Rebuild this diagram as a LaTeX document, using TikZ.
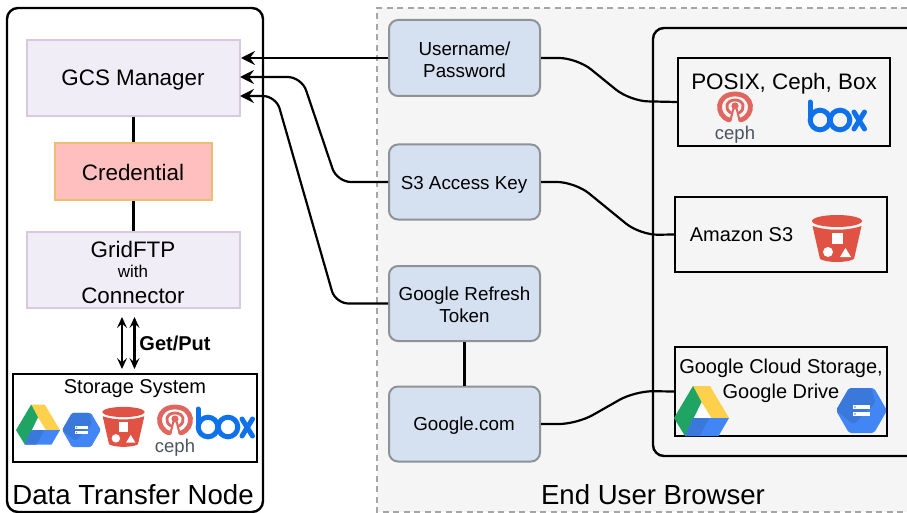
\documentclass[tikz,border=0pt]{standalone}
\usepackage{fontspec}
\setmainfont{Liberation Sans}
\usetikzlibrary{arrows.meta}
\tikzset{
 x=1pt,y=-1pt,
 purplebox/.style={draw=lav,line width=2pt,fill=lavfill,inner sep=0pt},
 bluebox/.style={draw=graybd,line width=2pt,fill=bluef,rounded corners=9pt,minimum width=151pt,inner sep=0pt},
 blackbox/.style={draw=black,line width=2.4pt,inner sep=0pt},
 conn/.style={draw=black,line width=2.2pt,rounded corners=18pt},
 plainline/.style={draw=black,line width=2.2pt},
 arr/.style={conn,-{Stealth[length=14pt,width=14pt,inset=5pt]}},
 dbl/.style={plainline,{Stealth[length=11pt,width=10pt,inset=4.5pt]}-{Stealth[length=11pt,width=10pt,inset=4.5pt]}},
 lab/.style={inner sep=0pt,align=center},
 big/.style={font=\fontsize{27.6}{32}\selectfont},
 mid/.style={font=\fontsize{22.4}{26}\selectfont},
 sml/.style={font=\fontsize{18.8}{22}\selectfont},
 sgl/.style={font=\fontsize{20}{25}\selectfont},
 cephtxt/.style={text=cephg,font=\fontsize{18.5}{22}\selectfont},
}
\definecolor{lav}{HTML}{D5CAE2}
\definecolor{lavfill}{HTML}{F1EDF6}
\definecolor{graybd}{HTML}{8E9398}
\definecolor{bluef}{HTML}{D5E1F1}
\definecolor{credf}{HTML}{FFBFBF}
\definecolor{credd}{HTML}{EBBE70}
\definecolor{brow}{HTML}{F5F5F5}
\definecolor{dashc}{HTML}{A6A6A6}
\definecolor{redi}{HTML}{E05243}
\definecolor{cephr}{HTML}{E0675F}
\definecolor{cephg}{HTML}{4A5560}
\definecolor{boxb}{HTML}{0F72EA}
\definecolor{gblue}{HTML}{4285F4}
\definecolor{gblued}{HTML}{3B78DC}
\definecolor{ggreen}{HTML}{1FA463}
\definecolor{gyellow}{HTML}{FFD04B}
\newcommand{\bucketicon}[2]{\begin{scope}[shift={(#1)},x=#2pt,y=-#2pt]
 \fill[redi] (0,-20) ellipse[x radius=25,y radius=6];
 \fill[redi] (-24.5,-15) .. controls (-10,-10) and (10,-10) .. (24.5,-15) -- (17,18) .. controls (10,22) and (-10,22) .. (-17,18) -- cycle;
 \fill[white] (-5.5,-8) rectangle (5.5,3);
 \fill[white] (-9,11) circle[radius=5];
 \fill[white] (3,16) -- (8.5,7) -- (14,16) -- cycle;
\end{scope}}
\newcommand{\hexicon}[2]{\begin{scope}[shift={(#1)},x=#2pt,y=-#2pt]
 \fill[gblue,rounded corners=#2*2pt] (-25.5,0) -- (-12.5,-22.5) -- (12.5,-22.5) -- (25.5,0) -- (12.5,22.5) -- (-12.5,22.5) -- cycle;
 \fill[gblued,rounded corners=#2*2pt] (-25.5,0) -- (-12.5,-22.5) -- (10,-22.5) -- (14,-8) -- (-8,14) -- cycle;
 \fill[white] (-8.5,-5.5) rectangle (8.5,-1.5);
 \fill[white] (-8.5,1.5) rectangle (8.5,5.5);
 \fill[gblue] (-6.5,-3.5) circle[radius=.8] (-6.5,3.5) circle[radius=.8];
\end{scope}}
\newcommand{\driveicon}[2]{\begin{scope}[shift={(#1)},x=#2pt,y=-#2pt]
 \fill[white] (0,-9) -- (11,8) -- (-9,8) -- cycle;
 \fill[gyellow] (-8.5,-25) -- (8.5,-25) -- (27.5,7) -- (10,7) -- (0,-9) -- cycle;
 \fill[ggreen] (-8.5,-25) -- (0,-9) -- (-16.5,25) -- (-27.5,7) -- cycle;
 \fill[gblue] (-8.5,7) -- (27.5,7) -- (17,25) -- (-16.5,25) -- cycle;
 \fill[gblued] (-8.5,7) -- (8,7) -- (-2,25) -- (-16.5,25) -- cycle;
\end{scope}}
\newcommand{\cephicon}[2]{\begin{scope}[shift={(#1)},x=#2pt,y=-#2pt]
 \draw[cephr,line width=#2*4.8pt,line cap=round] (-6,13) .. controls (-20,8) and (-19,-13) .. (0,-13) .. controls (19,-13) and (20,8) .. (6,13);
 \draw[cephr,line width=#2*2.8pt,line cap=round] (-4,6) .. controls (-11,2) and (-9,-7) .. (0,-7) .. controls (9,-7) and (11,2) .. (4,6);
 \fill[cephr] (0,-1) circle[radius=3.6];
 \draw[cephr,line width=#2*2pt] (-1.8,2) .. controls (-2,6) and (-4,9) .. (-4.5,14);
 \draw[cephr,line width=#2*2pt] (1.8,2) .. controls (2,6) and (4,9) .. (4.5,14);
\end{scope}}
\newcommand{\boxicon}[2]{\begin{scope}[shift={(#1)},x=#2pt,y=-#2pt]
 \draw[boxb,line width=#2*5pt,line cap=round] (-27,-18) -- (-27,0);
 \draw[boxb,line width=#2*5pt] (-17,0) circle[radius=9.8];
 \draw[boxb,line width=#2*5pt] (3,0) circle[radius=9.8];
 \draw[boxb,line width=#2*5pt,line cap=round] (17,-8) -- (27.5,9);
 \draw[boxb,line width=#2*5pt,line cap=round] (27.5,-8) -- (17,9);
\end{scope}}
\begin{document}
\begin{tikzpicture}
\useasboundingbox (0,0) rectangle (907,513);
% containers
\path[fill=brow] (377,8) rectangle (907,512);
\draw[dashc,line width=2pt,dash pattern=on 6pt off 4.5pt] (907,8) -- (377,8) -- (377,512) -- (907,512);
\path[draw=black,line width=2.4pt,rounded corners=11pt] (918,28) -- (653,28) -- (653,456) -- (918,456);
\node[draw=black,line width=2.4pt,rounded corners=11pt,minimum width=256pt,minimum height=504pt,inner sep=0pt] (dtn) at (135,260) {};
\node[lab,big] (dtnl) at (133,495) {Data Transfer Node};
\node[lab,big] (ebl) at (653,495) {End User Browser};
% left column
\node[purplebox,minimum width=213pt,minimum height=76pt] (gcs) at (133.5,78) {};
\node[lab,mid] (gcsl) at (133,80) {GCS Manager};
\node[draw=credd,fill=credf,line width=2pt,inner sep=0pt,minimum width=157pt,minimum height=57pt] (cred) at (133.5,171.5) {};
\node[lab,mid] (credl) at (133,172.5) {Credential};
\node[purplebox,minimum width=213pt,minimum height=76pt] (grid) at (133.5,270) {};
\node[lab,mid] (g1) at (133,249.5) {GridFTP};
\node[lab,font=\fontsize{17}{20}\selectfont] (g2) at (133,271) {with};
\node[lab,mid] (g3) at (133,295.5) {Connector};
\draw[plainline] (gcs) -- (cred);
\draw[plainline] (cred) -- (grid);
\node[blackbox,minimum width=244pt,minimum height=88pt] (stor) at (135,418) {};
\node[lab,sgl] (storl) at (135,388.5) {Storage System};
\coordinate (upa) at (122,317); \coordinate (upb) at (122,369);
\coordinate (dna) at (134.5,317); \coordinate (dnb) at (134.5,369);
\draw[dbl] (upa) -- (upb);
\draw[dbl] (dna) -- (dnb);
\node[lab,sgl,font=\fontsize{20}{24}\selectfont\bfseries] (gp) at (175,343) {Get/Put};
% storage icons
\driveicon{38,424.5}{0.8}
\hexicon{81.5,430}{0.76}
\bucketicon{123.5,429}{0.85}
\cephicon{175,420}{1}
\node[lab,cephtxt] (c1) at (175,448) {ceph};
\boxicon{225,427}{1}
% middle column
\node[bluebox,minimum height=76pt] (user) at (464.5,58) {};
\node[lab,sml] (userl) at (464.5,60) {Username/\\Password};
\node[bluebox,minimum height=75pt] (s3k) at (464.5,182) {};
\node[lab,sml] (s3l0) at (464,185) {S3 Access Key};
\node[bluebox,minimum height=75pt] (refr) at (464.5,303.5) {};
\node[lab,sml] (refl) at (464.5,305) {Google Refresh\\Token};
\node[bluebox,minimum height=75pt] (gcom) at (464.5,424) {};
\node[lab,sml] (gcl) at (464,426) {Google.com};
\draw[plainline] (refr) -- (gcom);
% right boxes
\node[blackbox,minimum width=212pt,minimum height=88pt] (posix) at (784,102) {};
\node[lab,mid] (pl) at (784,84) {POSIX, Ceph, Box};
\cephicon{735,107}{1}
\node[lab,cephtxt] (c2) at (735,134.5) {ceph};
\boxicon{837,120}{1}
\node[blackbox,minimum width=212pt,minimum height=75pt] (s3b) at (781,234.5) {};
\node[lab,sgl] (s3l) at (741.5,235) {Amazon S3};
\bucketicon{837,241}{1}
\node[blackbox,minimum width=212pt,minimum height=89pt] (gb) at (781,391.5) {};
\node[lab,sgl] (gl) at (781,381) {Google Cloud Storage,\\Google Drive};
\driveicon{701.5,411}{1}
\hexicon{861.5,410.5}{1}
% connectors
\coordinate (ga) at (240,77); \coordinate (gb2) at (240,96);
\draw[arr] (user.west) -- (gcs.east |- user.west);
\draw[arr,rounded corners=14pt] (s3k.west) -- (337,182) -- (301.6,77) -- (ga);
\draw[arr,rounded corners=13pt] (refr.west) -- (335.5,303.5) -- (276,96) -- (gb2);
\draw[conn] (user.east) -- (577,58) -- (630,101) -- (posix.west);
\draw[conn] (s3k.east) -- (575,182) -- (640,235) -- (s3b.west);
\draw[conn] (gcom.east) -- (577,424) -- (635,391) -- (gb.west);
\end{tikzpicture}
\end{document}
